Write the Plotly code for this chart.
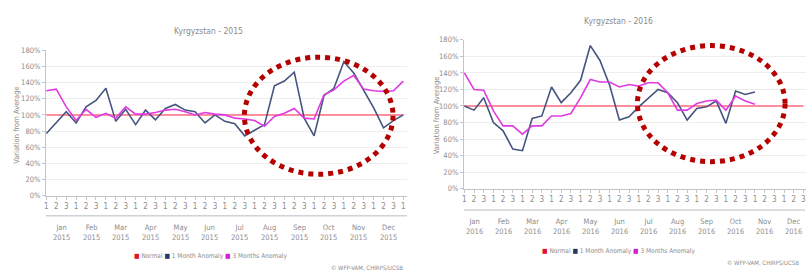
import plotly.graph_objects as go

# ---------------- data ----------------
months = ["Jan", "Feb", "Mar", "Apr", "May", "Jun", "Jul", "Aug", "Sep", "Oct", "Nov", "Dec"]

dekads_2015 = ["1", "2", "3", "1", "2", "3", "1", "2", "3", "1", "2", "3",
               "1", "2", "3", "1", "2", "3", "1", "2", "3", "1", "2", "3",
               "1", "2", "3", "1", "2", "3", "1", "2", "3", "1", "2", "3", "1"]
dekads_2016 = ["1", "2", "3", "1", "2", "3", "1", "2", "3", "1", "2", "3",
               "1", "2", "3", "1", "2", "3", "1", "2", "3", "1", "2", "3",
               "1", "2", "3", "1", "2", "3", "1", "2", "3", "1", "2", "3"]

normal_2015 = [100, 100, 100, 100, 100, 100, 100, 100, 100, 100, 100, 100, 100,
               100, 100, 100, 100, 100, 100, 100, 100, 100, 100, 100, 100, 100,
               100, 100, 100, 100, 100, 100, 100, 100, 100, 100, 100]
one_month_2015 = [77, 90, 104, 90, 110, 118, 133, 92, 107, 88, 106, 94, 108,
                  113, 106, 104, 90, 100, 92, 89, 74, 81, 88, 136, 142, 153,
                  96, 74, 124, 133, 166, 152, 131, 109, 84, 93, 100]
three_month_2015 = [130, 132, 110, 93, 107, 97, 102, 96, 110, 101, 101, 103, 106,
                    107, 104, 100, 103, 101, 100, 96, 95, 93, 86, 98, 102, 108,
                    96, 95, 125, 131, 142, 149, 132, 130, 129, 130, 142]

normal_2016 = [100, 100, 100, 100, 100, 100, 100, 100, 100, 100, 100, 100,
               100, 100, 100, 100, 100, 100, 100, 100, 100, 100, 100, 100,
               100, 100, 100, 100, 100, 100, 100, 100, 100, 100, 100, 100]
one_month_2016 = [100, 95, 110, 80, 70, 48, 46, 85, 88, 123, 104, 116, 131,
                  173, 155, 125, 83, 87, 99, 110, 120, 116, 104, 83, 97, 99,
                  106, 79, 118, 114, 117]
three_month_2016 = [140, 120, 119, 94, 76, 76, 66, 76, 76, 88, 88, 91, 110,
                    132, 129, 129, 123, 126, 124, 128, 128, 116, 95, 95, 103, 106,
                    107, 95, 112, 106, 102]

# ---------------- style ----------------
W, H = 812, 275
FONT = "Liberation Sans Narrow, DejaVu Sans Condensed, Arial Narrow, sans-serif"
TXT = "#8c8c8c"
C_NORMAL = "#ff6b80"
C_ONE = "#46557f"
C_THREE = "#e03ae3"


def fx(px):
    return px / W


def fy(py):
    return 1 - py / H


fig = go.Figure()

panels = [
    dict(xa="x", ya="y", n=normal_2015, a=one_month_2015, b=three_month_2015),
    dict(xa="x2", ya="y2", n=normal_2016, a=one_month_2016, b=three_month_2016),
]

for p in panels:
    fig.add_trace(go.Scatter(x=list(range(len(p["n"]))), y=p["n"], mode="lines",
                             line=dict(color=C_NORMAL, width=1.5),
                             xaxis=p["xa"], yaxis=p["ya"], showlegend=False,
                             name="Normal"))
    fig.add_trace(go.Scatter(x=list(range(len(p["a"]))), y=p["a"], mode="lines",
                             line=dict(color=C_ONE, width=1.6),
                             xaxis=p["xa"], yaxis=p["ya"], showlegend=False,
                             name="1 Month Anomaly"))
    fig.add_trace(go.Scatter(x=list(range(len(p["b"]))), y=p["b"], mode="lines",
                             line=dict(color=C_THREE, width=1.6),
                             xaxis=p["xa"], yaxis=p["ya"], showlegend=False,
                             name="3 Months Anomaly"))

xcommon = dict(showgrid=False, zeroline=False, showline=True, linecolor="#c4c4c4",
               ticks="outside", ticklen=3, tickcolor="#c4c4c4",
               tickfont=dict(family=FONT, size=8, color=TXT), tickangle=0)
ycommon = dict(range=[0, 180], dtick=20, ticksuffix="%", showgrid=True,
               gridcolor="#ededed", zeroline=False, showline=True,
               linecolor="#c4c4c4", ticks="outside", ticklen=3,
               tickcolor="#c4c4c4",
               tickfont=dict(family=FONT, size=7.5, color=TXT))

fig.update_layout(
    width=W, height=H,
    margin=dict(l=0, r=0, t=0, b=0),
    paper_bgcolor="white", plot_bgcolor="white",
    showlegend=False,
    xaxis=dict(domain=[fx(44), fx(406)], range=[-0.05, 36.37], anchor="y",
               tickmode="array", tickvals=list(range(len(dekads_2015))),
               ticktext=dekads_2015, **xcommon),
    yaxis=dict(domain=[1 - 198 / H, 1 - 48 / H], anchor="x", **ycommon),
    xaxis2=dict(domain=[fx(463), fx(806)], range=[-0.05, 35.27], anchor="y2",
                tickmode="array", tickvals=list(range(len(dekads_2016))),
                ticktext=dekads_2016, **xcommon),
    yaxis2=dict(domain=[1 - 191 / H, 1 - 37 / H], anchor="x2", **ycommon),
)


def label(text, x, y, xref="paper", size=8, xanchor="center", **kw):
    return dict(text=text, x=x, y=y, xref=xref, yref="paper", showarrow=False,
                xanchor=xanchor, yanchor="middle",
                font=dict(family=FONT, size=size, color=TXT), **kw)


ann = []
# titles
ann.append(label("Kyrgyzstan - 2015", fx(207.5), fy(28), size=8.5))
ann.append(label("Kyrgyzstan - 2016", fx(618), fy(18), size=8.5))
# y axis titles
ann.append(label("Variation from Average", fx(15), fy(125), size=7.5, textangle=-90))
ann.append(label("Variation from Average", fx(435), fy(115), size=7.5, textangle=-90))
# month labels
for m, name in enumerate(months):
    ann.append(label(f"{name}<br>2015", 3 * m + 1.5, fy(236.5), xref="x", size=7.5))
    ann.append(label(f"{name}<br>2016", 3 * m + 1.0, fy(230.5), xref="x2", size=7.5))
# legends
leg = ('<span style="color:#e3102b">■</span> Normal '
       '<span style="color:#26386b">■</span> 1 Month Anomaly '
       '<span style="color:#d21fd2">■</span> 3 Months Anomaly')
ann.append(label(leg, fx(209), fy(261), size=6.5))
ann.append(label(leg, fx(618), fy(255), size=6.5))
# credits
ann.append(label("© WFP-VAM, CHIRPS/UCSB", fx(404), fy(272), size=6, xanchor="right"))
ann.append(label("© WFP-VAM, CHIRPS/UCSB", fx(801), fy(267), size=6, xanchor="right"))
fig.update_layout(annotations=ann)

shapes = [
    # separator lines between dekad row and month row
    dict(type="line", xref="paper", yref="paper", x0=fx(44), x1=fx(406), y0=fy(219), y1=fy(219),
         line=dict(color="#bdbdbd", width=1)),
    dict(type="line", xref="paper", yref="paper", x0=fx(463), x1=fx(805), y0=fy(213), y1=fy(213),
         line=dict(color="#bdbdbd", width=1)),
    # red dotted highlight ellipses
    dict(type="circle", xref="paper", yref="paper", x0=fx(243), x1=fx(392), y0=fy(176), y1=fy(55),
         line=dict(color="#b40000", width=5, dash="5px,5px"), layer="above"),
    dict(type="circle", xref="paper", yref="paper", x0=fx(637), x1=fx(785), y0=fy(163), y1=fy(43),
         line=dict(color="#b40000", width=5, dash="5px,5px"), layer="above"),
]
fig.update_layout(shapes=shapes)

fig.write_html("out.html", config={"displayModeBar": False},
               post_script="document.body.style.margin='0px';document.body.style.padding='0px';")
